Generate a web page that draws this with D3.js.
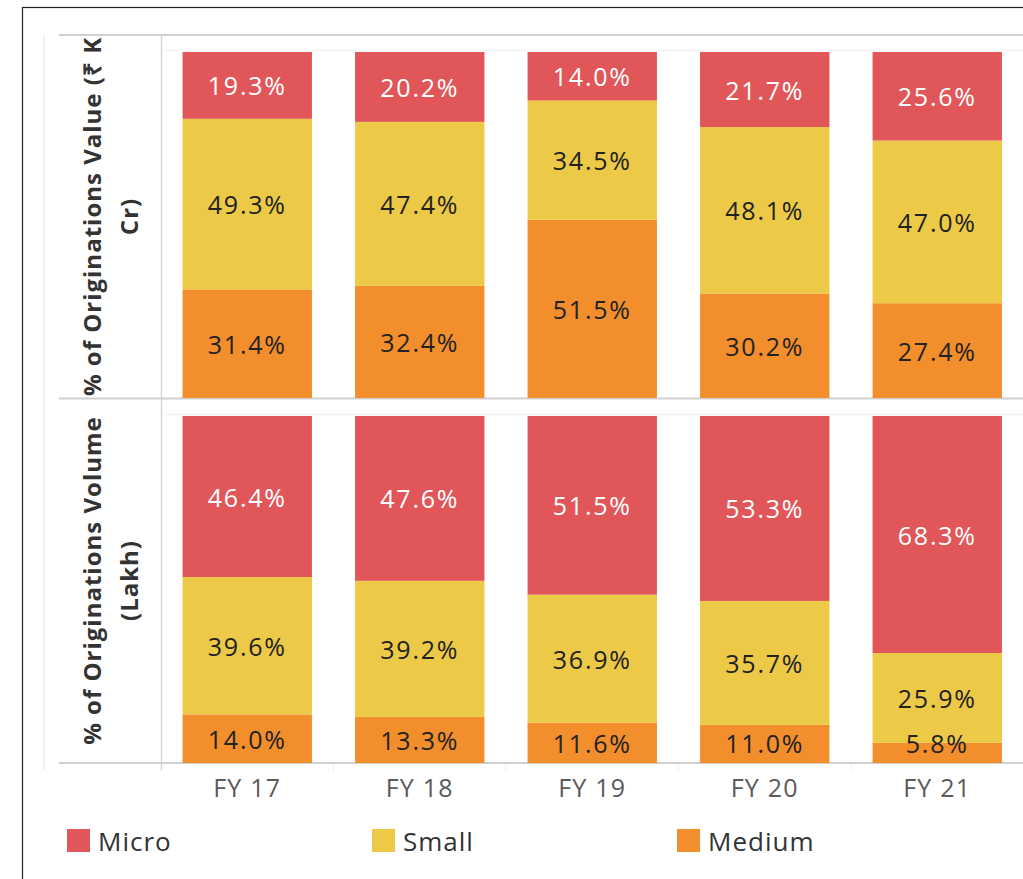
<!DOCTYPE html>
<html>
<head>
<meta charset="utf-8">
<script src="https://cdn.jsdelivr.net/npm/d3@7"></script>
<style>
  html, body { margin: 0; padding: 0; background: #fff; }
  svg { display: block; }
</style>
</head>
<body>
<svg id="chart" width="1023" height="879"></svg>
<script>
const categories = ["FY 17", "FY 18", "FY 19", "FY 20", "FY 21"];
const segments = ["Micro", "Small", "Medium"];
const valueMicro  = [19.3, 20.2, 14.0, 21.7, 25.6];
const valueSmall  = [49.3, 47.4, 34.5, 48.1, 47.0];
const valueMedium = [31.4, 32.4, 51.5, 30.2, 27.4];
const volumeMicro  = [46.4, 47.6, 51.5, 53.3, 68.3];
const volumeSmall  = [39.6, 39.2, 36.9, 35.7, 25.9];
const volumeMedium = [14.0, 13.3, 11.6, 11.0, 5.8];
const panelTitles = [
  ["% of Originations Value (₹ K", "Cr)"],
  ["% of Originations Volume", "(Lakh)"]
];
const colors = { Micro: "#e15759", Small: "#edc948", Medium: "#f28e2b" };
const labelColors = { Micro: "#ffffff", Small: "#222222", Medium: "#222222" };

const svg = d3.select("#chart");
const FONT = "'Open Sans', sans-serif";

// outer frame
svg.append("rect").attr("x", 22.5).attr("y", 7.5).attr("width", 1100).attr("height", 1000)
  .attr("fill", "none").attr("stroke", "#222").attr("stroke-width", 1.2);

const plotLeft = 161, plotRight = 1023.5;
const x = d3.scaleBand().domain(categories).range([plotLeft, plotRight]).paddingInner(0.25).paddingOuter(0.125);

const panels = [
  { top: 52, bottom: 398, headerTop: 35, data: [valueMicro, valueSmall, valueMedium], titles: panelTitles[0] },
  { top: 416, bottom: 763, headerTop: 398, data: [volumeMicro, volumeSmall, volumeMedium], titles: panelTitles[1] }
];

// grid / structure lines
const g0 = svg.append("g");
g0.append("line").attr("x1", 44).attr("x2", 44).attr("y1", 35).attr("y2", 770).attr("stroke", "#ececec").attr("stroke-width", 1.5);
g0.append("line").attr("x1", 161.5).attr("x2", 161.5).attr("y1", 35).attr("y2", 770).attr("stroke", "#d6d6d6").attr("stroke-width", 1.5);
[35, 398.5, 763].forEach(yy => {
  g0.append("line").attr("x1", 59).attr("x2", 1023).attr("y1", yy).attr("y2", yy).attr("stroke", "#d0d0d0").attr("stroke-width", 2);
});
categories.forEach((c, i) => {
  if (i === 0) return;
  const xx = x(c) - x.step() * x.paddingInner() / 2;
  g0.append("line").attr("x1", xx).attr("x2", xx).attr("y1", 764).attr("y2", 771).attr("stroke", "#eeeeee").attr("stroke-width", 1);
});

const defs = svg.append("defs");

panels.forEach((p, pi) => {
  const y = d3.scaleLinear().domain([0, 100]).range([p.bottom, p.top]);
  svg.append("line").attr("x1", plotLeft + 2).attr("x2", 1023).attr("y1", y(100) - 1.5).attr("y2", y(100) - 1.5)
    .attr("stroke", "#f2f2f2").attr("stroke-width", 1.5);

  const rows = categories.map((c, i) => {
    const o = { cat: c };
    segments.forEach((s, k) => o[s] = p.data[k][i]);
    return o;
  });
  const stack = d3.stack().keys(["Medium", "Small", "Micro"]);
  const series = stack(rows);

  const gBars = svg.append("g");
  const gLabels = svg.append("g");
  series.forEach(s => {
    const key = s.key;
    s.forEach(d => {
      const c = d.data.cat;
      const y0 = y(d[0]), y1 = y(Math.min(d[1], 100));
      gBars.append("rect")
        .attr("x", x(c)).attr("width", x.bandwidth())
        .attr("y", y1).attr("height", y0 - y1)
        .attr("fill", colors[key]);
      let cy = (y0 + y1) / 2;
      cy = Math.min(cy, p.bottom - 20);
      gLabels.append("text")
        .attr("x", x(c) + x.bandwidth() / 2).attr("y", cy)
        .attr("text-anchor", "middle").attr("dominant-baseline", "central")
        .attr("font-family", FONT).attr("font-size", 25).attr("letter-spacing", 1.8)
        .attr("fill", labelColors[key])
        .text(d.data[key].toFixed(1) + "%");
    });
  });

  const clipId = "clip" + pi;
  defs.append("clipPath").attr("id", clipId).append("rect")
    .attr("x", 50).attr("y", p.headerTop + 2).attr("width", 110).attr("height", 763 - p.headerTop);
  const cy = (p.headerTop + (pi === 0 ? 398 : 763)) / 2;
  const tg = svg.append("g").attr("clip-path", `url(#${clipId})`);
  const t = tg.append("text")
    .attr("transform", `translate(93,${cy}) rotate(-90)`)
    .attr("text-anchor", "middle")
    .attr("font-family", FONT).attr("font-size", 24).attr("font-weight", "bold").attr("letter-spacing", 1)
    .attr("fill", "#333");
  p.titles.forEach((line, li) => {
    t.append("tspan").attr("x", 0).attr("y", li * 37).attr("dy", "0.35em").text(line);
  });
});

// x axis labels
const xAxis = d3.axisBottom(x).tickSize(0).tickPadding(16);
const ax = svg.append("g").attr("transform", "translate(0,763)").call(xAxis);
ax.select(".domain").remove();
ax.selectAll("text").attr("font-family", FONT).attr("font-size", 25).attr("letter-spacing", 1.2).attr("fill", "#5a5a5a");

// legend
const legendX = [67, 372, 677];
const lg = svg.append("g");
segments.forEach((s, i) => {
  lg.append("rect").attr("x", legendX[i]).attr("y", 829).attr("width", 23).attr("height", 23).attr("fill", colors[s]);
  lg.append("text").attr("x", legendX[i] + 31).attr("y", 841).attr("dominant-baseline", "central")
    .attr("font-family", FONT).attr("font-size", 26).attr("letter-spacing", 1).attr("fill", "#333").text(s);
});
</script>
</body>
</html>
